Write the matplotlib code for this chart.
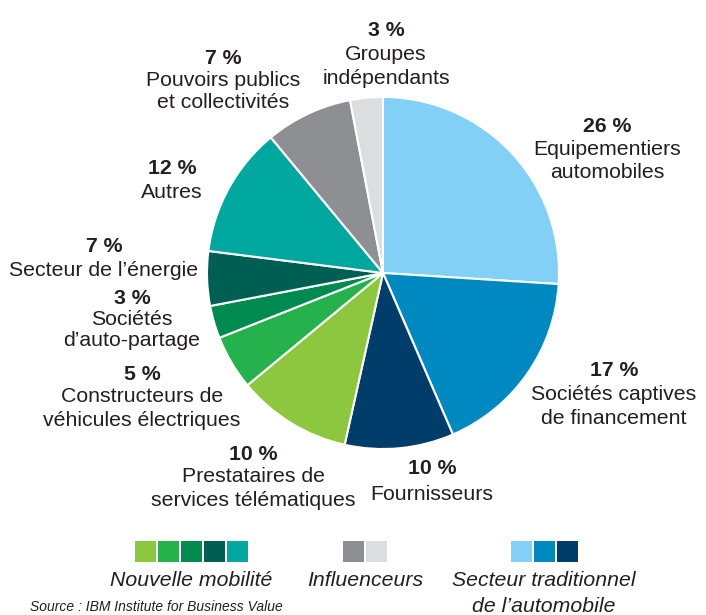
import matplotlib.pyplot as plt
from matplotlib.patches import Rectangle

plt.rcParams['font.family'] = ['Liberation Sans', 'DejaVu Sans']

# Données
categories = ["Equipementiers\nautomobiles", "Sociétés captives\nde financement", "Fournisseurs",
              "Prestataires de\nservices télématiques", "Constructeurs de\nvéhicules électriques",
              "Sociétés\nd’auto-partage", "Secteur de l’énergie", "Autres",
              "Pouvoirs publics\net collectivités", "Groupes\nindépendants"]
# pourcentages affichés
values = [26, 17, 10, 10, 5, 3, 7, 12, 7, 3]
# taille des parts telle que dessinée dans le graphique
shares = [26, 17.5, 10, 10.5, 5, 3, 5, 12, 8, 3]
colors = ["#82D0F5", "#0089C1", "#003D6A", "#8DC63F", "#25B14B",
          "#008A4F", "#005F53", "#00A79E", "#8E8F93", "#DCDDDF"]

groups = ["Nouvelle mobilité", "Influenceurs", "Secteur traditionnel\nde l’automobile"]
group_members = [[3, 4, 5, 6, 7], [8, 9], [0, 1, 2]]

W, H = 706, 615
TXT = "#231F20"


def Y(y):
    # coordonnées pixel (origine en haut) -> axes
    return H - y


fig = plt.figure(figsize=(W / 100, H / 100), dpi=100)
ax = fig.add_axes([0, 0, 1, 1])

ax.pie(shares, colors=colors, startangle=90, counterclock=False,
       center=(383, Y(273)), radius=176, frame=True,
       wedgeprops=dict(edgecolor="white", linewidth=1.5))
ax.set_xlim(0, W)
ax.set_ylim(0, H)
ax.set_aspect("equal")
ax.axis("off")

# position des étiquettes : (x, y du pourcentage, interligne)
label_pos = [(607, 124, 23.5), (614, 368, 24), (432, 467, 25), (253, 452, 23),
             (142, 372, 23), (132, 296, 21.5), (104, 244, 24), (172, 167, 23),
             (223, 56, 22), (386, 28, 24)]

for cat, v, (x, y, gap) in zip(categories, values, label_pos):
    ax.text(x, Y(y + 2), f"{v} %", ha="center", va="center", fontsize=15.3,
            fontweight="bold", color=TXT)
    for k, line in enumerate(cat.split("\n")):
        ax.text(x, Y(y + 2 + gap * (k + 1)), line, ha="center", va="center",
                fontsize=15.3, color=TXT)

# légende
group_x = [191, 365, 544]
sq, sp = 21, 2
for g, gx, members in zip(groups, group_x, group_members):
    n = len(members)
    left = gx - (n * sq + (n - 1) * sp) / 2
    for i, m in enumerate(members):
        ax.add_patch(Rectangle((left + i * (sq + sp), Y(562)), sq, sq,
                               facecolor=colors[m], edgecolor="none"))
    for k, line in enumerate(g.split("\n")):
        ax.text(gx, Y(581 + 25 * k), line, ha="center", va="center", fontsize=15.3,
                style="italic", color=TXT)

ax.text(30, Y(614), "Source : IBM Institute for Business Value", ha="left", va="bottom",
        fontsize=10, style="italic", color=TXT)

fig.savefig("out.png", dpi=100)
